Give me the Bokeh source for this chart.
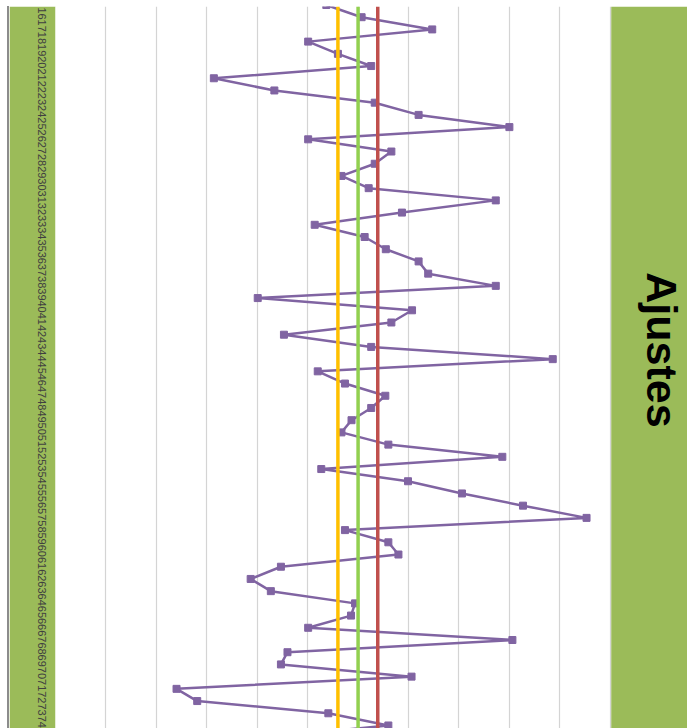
import math

from bokeh.embed import file_html
from bokeh.layouts import column, row
from bokeh.models import (BoxAnnotation, ColumnDataSource, Div, FixedTicker,
                          Label, Range1d, Spacer, Span)
from bokeh.plotting import figure
from bokeh.resources import INLINE

# Sample numbers shown on the category axis
categories = list(range(15, 76))

# Measured adjustment per sample
ajustes = [
    5.37, 6.07, 7.47, 5.01, 5.60, 6.26, 3.14, 4.34, 6.33, 7.20,
    9.00, 5.01, 6.66, 6.33, 5.67, 6.21, 8.73, 6.87, 5.14, 6.13,
    6.55, 7.20, 7.39, 8.73, 4.01, 7.07, 6.66, 4.53, 6.26, 9.86,
    5.20, 5.74, 6.54, 6.26, 5.87, 5.67, 6.60, 8.86, 5.27, 6.99,
    8.06, 9.27, 10.53, 5.74, 6.60, 6.80, 4.47, 3.87, 4.27, 5.94,
    5.86, 5.01, 9.06, 4.60, 4.47, 7.06, 2.40, 2.81, 5.41, 6.60,
    4.10,
]

# Reference levels
limite_inferior = 5.60
media = 6.00
limite_superior = 6.39

value_ticks = list(range(0, 12))
value_max = 11

GREEN_BG = "#9BBB59"

# the frame runs to the right edge; the band past value_max holds the title
p = figure(
    width=678,
    height=722,
    output_backend="svg",
    toolbar_location=None,
    x_range=Range1d(0, 12.532),
    y_range=Range1d(74.247, 15.124),
    x_axis_location=None,
    y_axis_location="left",
    min_border_left=46,
    min_border_right=0,
    min_border_top=0,
    min_border_bottom=0,
    border_fill_color=GREEN_BG,
    background_fill_color="white",
    outline_line_color=None,
    margin=0,
)

p.xgrid.ticker = FixedTicker(ticks=value_ticks)
p.xgrid.grid_line_color = "#D4D4D4"
p.xgrid.grid_line_width = 1.2
p.ygrid.grid_line_color = None

# category labels sit slightly below their points
label_shift = 0.2
shown = [c for c in categories if 16 <= c <= 74]
label_pos = [c + label_shift for c in shown]
ax = p.yaxis[0]
ax.ticker = FixedTicker(ticks=label_pos)
ax.major_label_overrides = {pos: str(c) for pos, c in zip(label_pos, shown)}
ax.major_label_orientation = -math.pi / 2
ax.major_label_text_font = "Liberation Sans"
ax.major_label_text_font_size = "11px"
ax.major_label_text_color = "#404040"
ax.major_label_standoff = 8
ax.axis_line_color = None
ax.major_tick_line_color = None
ax.minor_tick_line_color = None

for loc, col in ((limite_inferior, "#FFC000"), (media, "#92D050"), (limite_superior, "#C0504D")):
    p.add_layout(Span(location=loc, dimension="height", line_color=col, line_width=3.5))

src = ColumnDataSource(dict(cat=categories, val=ajustes))
p.line("val", "cat", source=src, line_color="#8064A2", line_width=2.5)
p.scatter("val", "cat", source=src, marker="square", size=7,
          fill_color="#8064A2", line_color="#8064A2")

# title band
p.add_layout(BoxAnnotation(left=value_max + 0.02, fill_color=GREEN_BG, fill_alpha=1.0,
                           line_color=None))
p.add_layout(Label(x=12.02, y=43.25, text="Ajustes", angle=-math.pi / 2,
                   text_font="Liberation Sans", text_font_size="43px",
                   text_font_style="bold", text_color="black",
                   text_align="center", text_baseline="middle"))

edge = Div(width=2, height=722, margin=0, styles={"background-color": "#8C8C8C"})
root = column(
    Spacer(width=687, height=6, margin=0),
    row(Spacer(width=7, height=722, margin=0), edge, p, spacing=0, margin=0),
    spacing=0,
    margin=0,
)

open("out.html", "w").write(file_html(root, INLINE))
